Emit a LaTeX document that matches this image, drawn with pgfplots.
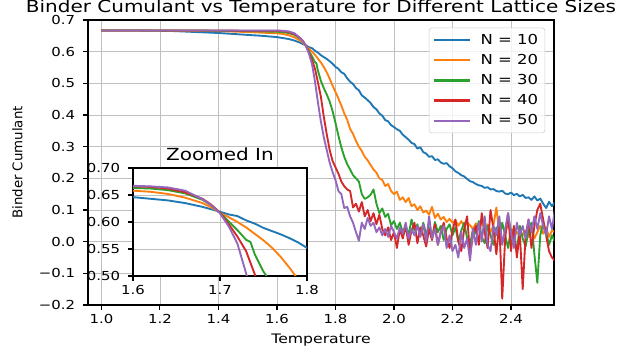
\documentclass[border=0pt]{standalone}
\usepackage{fontspec}
\setmainfont[FakeStretch=1.2]{DejaVu Sans}
\newfontfamily\ylabfont{DejaVu Sans}
\usepackage{pgfplots}
\usepackage{pgfplotstable}
\pgfplotsset{compat=1.18}

\definecolor{c0}{HTML}{1F77B4}
\definecolor{c1}{HTML}{FF7F0E}
\definecolor{c2}{HTML}{2CA02C}
\definecolor{c3}{HTML}{D62728}
\definecolor{c4}{HTML}{9467BD}

% N = 10
\pgfplotstableread{
T B
1.00 0.667
1.10 0.667
1.20 0.666
1.25 0.665
1.30 0.663
1.35 0.661
1.40 0.659
1.45 0.656
1.50 0.653
1.55 0.650
1.60 0.646
1.62 0.643
1.64 0.640
1.66 0.635
1.68 0.628
1.70 0.619
1.71 0.614
1.72 0.611
1.73 0.603
1.74 0.597
1.75 0.589
1.76 0.583
1.77 0.577
1.78 0.570
1.79 0.562
1.80 0.552
1.81 0.546
1.82 0.535
1.83 0.530
1.84 0.516
1.85 0.505
1.86 0.498
1.87 0.485
1.88 0.478
1.89 0.462
1.90 0.455
1.91 0.447
1.92 0.438
1.93 0.425
1.94 0.418
1.95 0.405
1.96 0.398
1.97 0.384
1.98 0.380
1.99 0.368
2.00 0.362
2.01 0.355
2.02 0.350
2.03 0.338
2.04 0.330
2.05 0.322
2.06 0.312
2.07 0.308
2.08 0.294
2.09 0.298
2.10 0.283
2.11 0.278
2.12 0.268
2.13 0.270
2.14 0.258
2.15 0.260
2.16 0.250
2.17 0.246
2.18 0.248
2.19 0.238
2.20 0.232
2.21 0.222
2.22 0.217
2.23 0.210
2.24 0.206
2.25 0.198
2.26 0.191
2.27 0.188
2.28 0.182
2.29 0.178
2.30 0.176
2.31 0.170
2.32 0.172
2.33 0.165
2.34 0.166
2.35 0.160
2.36 0.158
2.37 0.161
2.38 0.152
2.39 0.150
2.40 0.155
2.41 0.147
2.42 0.151
2.43 0.143
2.44 0.148
2.45 0.138
2.46 0.140
2.47 0.132
2.48 0.143
2.49 0.130
2.50 0.136
2.51 0.120
2.52 0.106
2.53 0.126
2.54 0.112
2.55 0.125
}\dataA

% N = 20
\pgfplotstableread{
T B
1.00 0.667
1.20 0.667
1.30 0.666
1.40 0.665
1.50 0.662
1.55 0.660
1.60 0.658
1.62 0.656
1.64 0.652
1.66 0.645
1.68 0.635
1.69 0.627
1.70 0.617
1.71 0.609
1.72 0.600
1.73 0.590
1.74 0.578
1.75 0.566
1.76 0.552
1.77 0.535
1.78 0.515
1.79 0.493
1.80 0.473
1.81 0.452
1.82 0.430
1.83 0.405
1.84 0.385
1.85 0.356
1.86 0.340
1.87 0.318
1.88 0.300
1.89 0.286
1.90 0.268
1.91 0.257
1.92 0.242
1.93 0.228
1.94 0.218
1.95 0.200
1.96 0.195
1.97 0.176
1.98 0.182
1.99 0.160
2.00 0.150
2.01 0.158
2.02 0.132
2.03 0.140
2.04 0.125
2.05 0.138
2.06 0.112
2.07 0.118
2.08 0.100
2.09 0.112
2.10 0.092
2.11 0.098
2.12 0.085
2.13 0.110
2.14 0.075
2.15 0.088
2.16 0.070
2.17 0.078
2.18 0.062
2.19 0.072
2.20 0.060
2.21 0.068
2.22 0.050
2.23 0.065
2.24 0.048
2.25 0.060
2.26 0.052
2.27 0.040
2.28 0.058
2.29 0.045
2.30 0.062
2.31 0.038
2.32 0.055
2.33 0.030
2.34 0.052
2.35 0.108
2.36 0.028
2.37 0.048
2.38 0.035
2.39 0.050
2.40 0.030
2.41 0.042
2.42 0.025
2.43 0.038
2.44 0.020
2.45 0.035
2.46 0.015
2.47 0.040
2.48 0.010
2.49 0.030
2.50 0.050
2.51 0.025
2.52 0.045
2.53 0.015
2.54 0.035
2.55 0.030
}\dataB

% N = 30
\pgfplotstableread{
T B
1.00 0.667
1.30 0.667
1.40 0.666
1.50 0.665
1.60 0.663
1.62 0.662
1.64 0.659
1.66 0.653
1.68 0.641
1.69 0.631
1.70 0.617
1.71 0.601
1.72 0.585
1.73 0.567
1.735 0.563
1.74 0.540
1.75 0.508
1.76 0.485
1.77 0.465
1.78 0.443
1.79 0.413
1.80 0.375
1.81 0.335
1.82 0.298
1.83 0.268
1.84 0.245
1.85 0.228
1.86 0.210
1.87 0.200
1.88 0.190
1.89 0.150
1.90 0.135
1.91 0.140
1.92 0.148
1.93 0.165
1.94 0.120
1.95 0.090
1.96 0.105
1.97 0.078
1.98 0.088
1.99 0.052
2.00 0.065
2.01 0.040
2.02 0.060
2.03 0.030
2.04 0.048
2.05 0.022
2.06 0.070
2.07 0.035
2.08 0.055
2.09 0.018
2.10 0.060
2.11 0.025
2.12 0.045
2.13 0.010
2.14 0.062
2.15 0.030
2.16 0.050
2.17 0.005
2.18 0.040
2.19 0.055
2.20 0.020
2.21 0.045
2.22 0.000
2.23 0.035
2.24 0.060
2.25 0.010
2.26 -0.010
2.27 0.040
2.28 0.025
2.29 0.065
2.30 0.015
2.31 -0.005
2.32 0.050
2.33 0.020
2.34 -0.010
2.35 0.045
2.36 0.010
2.37 0.060
2.38 0.020
2.39 -0.020
2.40 0.040
2.41 0.005
2.42 -0.030
2.43 0.050
2.44 0.010
2.45 -0.015
2.46 0.035
2.47 0.060
2.48 -0.040
2.49 -0.130
2.50 0.020
2.51 0.060
2.52 0.030
2.53 -0.010
2.54 0.020
2.55 0.000
}\dataC

% N = 40
\pgfplotstableread{
T B
1.00 0.667
1.40 0.667
1.50 0.666
1.60 0.666
1.62 0.665
1.64 0.662
1.66 0.655
1.68 0.643
1.69 0.632
1.70 0.617
1.71 0.596
1.72 0.573
1.73 0.546
1.74 0.503
1.75 0.458
1.76 0.395
1.77 0.340
1.78 0.290
1.79 0.255
1.80 0.235
1.81 0.215
1.82 0.190
1.83 0.175
1.84 0.165
1.85 0.160
1.86 0.108
1.87 0.120
1.88 0.095
1.89 0.125
1.90 0.080
1.91 0.100
1.92 0.065
1.93 0.090
1.94 0.055
1.95 0.085
1.96 0.040
1.97 0.020
1.98 0.045
1.99 0.005
2.00 0.030
2.01 -0.020
2.02 0.040
2.03 0.010
2.04 0.050
2.05 -0.010
2.06 0.035
2.07 0.060
2.08 -0.005
2.09 0.045
2.10 0.020
2.11 -0.015
2.12 0.040
2.13 0.005
2.14 0.055
2.15 -0.010
2.16 0.030
2.17 0.060
2.18 0.010
2.19 -0.020
2.20 0.035
2.21 0.070
2.22 0.000
2.23 -0.030
2.24 0.040
2.25 0.080
2.26 -0.040
2.27 0.020
2.28 0.050
2.29 -0.010
2.30 0.090
2.31 0.030
2.32 -0.020
2.33 0.100
2.34 0.040
2.35 -0.040
2.36 0.060
2.37 -0.180
2.38 0.010
2.39 0.090
2.40 -0.030
2.41 0.050
2.42 -0.050
2.43 0.030
2.44 -0.150
2.45 0.020
2.46 0.070
2.47 -0.020
2.48 0.050
2.49 0.100
2.50 0.120
2.51 0.070
2.52 0.020
2.53 -0.030
2.54 -0.050
2.55 -0.060
}\dataD

% N = 50
\pgfplotstableread{
T B
1.00 0.667
1.60 0.667
1.62 0.666
1.64 0.664
1.66 0.658
1.68 0.642
1.69 0.631
1.70 0.616
1.71 0.592
1.72 0.560
1.73 0.505
1.74 0.440
1.75 0.380
1.76 0.330
1.77 0.290
1.78 0.250
1.79 0.220
1.80 0.195
1.81 0.160
1.82 0.150
1.83 0.106
1.84 0.110
1.85 0.080
1.86 0.060
1.87 0.030
1.88 0.003
1.89 0.060
1.90 0.040
1.91 0.075
1.92 0.050
1.93 0.060
1.94 0.030
1.95 0.045
1.96 0.020
1.97 0.040
1.98 0.015
1.99 0.050
2.00 0.030
2.01 0.010
2.02 0.045
2.03 0.025
2.04 0.060
2.05 0.010
2.06 0.040
2.07 0.020
2.08 0.050
2.09 0.015
2.10 0.055
2.11 0.000
2.12 0.080
2.13 0.010
2.14 0.040
2.15 -0.010
2.16 0.030
2.17 0.050
2.18 -0.020
2.19 0.020
2.20 -0.030
2.21 -0.010
2.22 -0.050
2.23 0.030
2.24 -0.020
2.25 0.010
2.26 -0.060
2.27 0.040
2.28 -0.010
2.29 0.060
2.30 0.000
2.31 0.080
2.32 -0.010
2.33 -0.030
2.34 0.050
2.35 0.020
2.36 0.080
2.37 -0.010
2.38 0.040
2.39 0.090
2.40 0.030
2.41 -0.020
2.42 0.060
2.43 0.020
2.44 0.050
2.45 0.010
2.46 0.070
2.47 0.030
2.48 0.080
2.49 0.040
2.50 0.090
2.51 0.050
2.52 0.020
2.53 0.080
2.54 0.040
2.55 0.100
}\dataE

\pgfplotsset{
  mpl/.style={
    scale only axis,
    axis line style={black, line width=0.8pt},
    grid=major,
    major grid style={color=black!25, line width=0.6pt},
    tick align=outside,
    major tick length=3.7pt,
    tick style={black, line width=0.8pt},
    xtick pos=bottom, ytick pos=left,
    every tick label/.append style={font=\fontsize{9.3}{10}\selectfont},
    yticklabel style={xshift=-2.5pt},
    title style={font=\fontsize{12.5}{13}\selectfont, at={(0.5,1)}, anchor=base, inner sep=0pt, yshift=-0.5pt},
    no markers,
    every axis plot/.append style={line width=1.4pt, line join=round},
  }
}

\begin{document}
\begin{tikzpicture}
\useasboundingbox (0,0) rectangle (471pt,265.5pt);

\begin{axis}[mpl,
  at={(66pt,36.75pt)}, anchor=south west,
  width=349.5pt, height=213.75pt,
  xmin=0.954, xmax=2.547, ymin=-0.2, ymax=0.7,
  xtick={1.0,1.2,1.4,1.6,1.8,2.0,2.2,2.4},
  xticklabels={1.0,1.2,1.4,1.6,1.8,2.0,2.2,2.4},
  ytick={-0.2,-0.1,0,0.1,0.2,0.3,0.4,0.5,0.6,0.7},
  yticklabels={−0.2,−0.1,0.0,0.1,0.2,0.3,0.4,0.5,0.6,0.7},
  title={Binder Cumulant vs Temperature for Different Lattice Sizes},
  xlabel={Temperature},
  xlabel style={font=\fontsize{9.8}{11}\selectfont, at={(axis description cs:0.5,0)}, anchor=base, inner sep=0pt, yshift=-28.5pt},
  ylabel={\ylabfont Binder Cumulant},
  ylabel style={font=\fontsize{10}{11}\selectfont, at={(axis description cs:0,0.5)}, anchor=center, inner sep=0pt, yshift=52.9pt},
  legend cell align=left,
  legend image code/.code={\draw[#1, line width=1.75pt] (0pt,0pt) -- (27pt,0pt); \path (32pt,0pt);},
  legend style={at={(0.981,0.973)}, anchor=north east,
    draw=black!20, fill=white, fill opacity=0.8, text opacity=1,
    rounded corners=2pt, font=\fontsize{10.3}{11}\selectfont,
    inner xsep=3pt, inner ysep=2.5pt, row sep=2pt,
    /tikz/every even column/.append style={column sep=4pt}},
]
\addplot[c0] table[x=T,y=B] {\dataA};
\addlegendentry{N = 10}
\addplot[c1] table[x=T,y=B] {\dataB};
\addlegendentry{N = 20}
\addplot[c2] table[x=T,y=B] {\dataC};
\addlegendentry{N = 30}
\addplot[c3] table[x=T,y=B] {\dataD};
\addlegendentry{N = 40}
\addplot[c4] table[x=T,y=B] {\dataE};
\addlegendentry{N = 50}
\end{axis}

\begin{axis}[mpl,
  at={(99.75pt,58.5pt)}, anchor=south west,
  width=130.5pt, height=81pt,
  axis background/.style={fill=white},
  xmin=1.6, xmax=1.8, ymin=0.5, ymax=0.7,
  xtick={1.6,1.7,1.8}, xticklabels={1.6,1.7,1.8},
  ytick={0.5,0.55,0.6,0.65,0.7},
  yticklabels={0.50,0.55,0.60,0.65,0.70},
  title={Zoomed In},
  title style={yshift=-0.25pt},
]
\addplot[c0] table[x=T,y=B] {\dataA};
\addplot[c1] table[x=T,y=B] {\dataB};
\addplot[c2] table[x=T,y=B] {\dataC};
\addplot[c3] table[x=T,y=B] {\dataD};
\addplot[c4] table[x=T,y=B] {\dataE};
\end{axis}
\end{tikzpicture}
\end{document}
